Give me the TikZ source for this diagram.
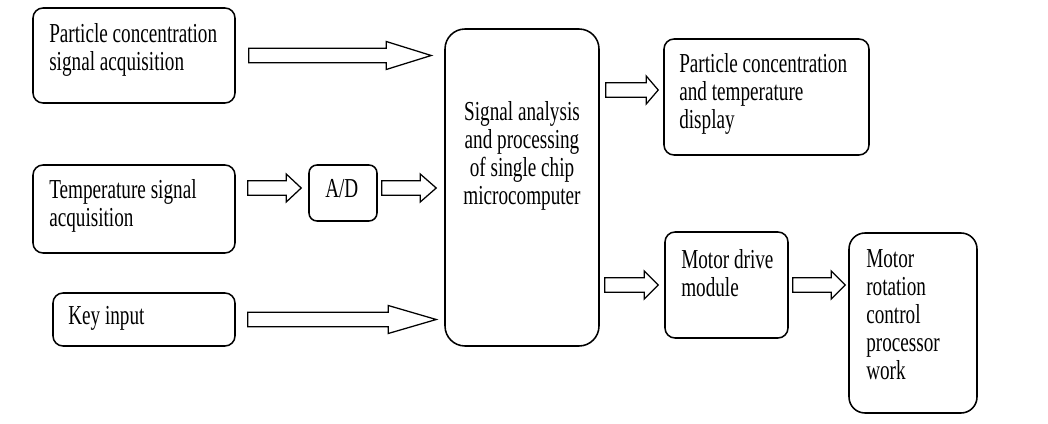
\documentclass[tikz,border=0pt]{standalone}
\usepackage{fontspec}
\setmainfont{Liberation Serif}[FakeStretch=0.7]
\usepackage{tikz}
\usetikzlibrary{positioning, calc}
\tikzset{head len/.store in=\headlen, head len=0.35cm}
\tikzstyle{blockarrow} = [draw=black, line width=0.9pt, line join=miter, fill=white,
                          to path={let \p1=(\tikztostart), \p2=(\tikztotarget) in
                            (\x1,\y1+0.18cm) -- (\x2-\headlen,\y1+0.18cm) -- (\x2-\headlen,\y1+0.35cm)
                            -- (\x2,\y1) -- (\x2-\headlen,\y1-0.35cm) -- (\x2-\headlen,\y1-0.18cm)
                            -- (\x1,\y1-0.18cm) -- cycle}]
\begin{document}
\begin{tikzpicture}[
    blk/.style={rectangle, rounded corners=0.25cm, draw=black, line width=1.1pt, fill=white},
    txt/.style={anchor=north west, inner sep=0pt, align=left, font=\fontsize{19.5}{20}\selectfont},
]
\useasboundingbox (0,0) rectangle (26.2,-10.6);

% Signal sources
\node[blk, minimum width=5.05cm, minimum height=2.375cm] (pca) at (3.35,-1.3875) {};
\node[txt] at (1.225,-0.57) {Particle concentration\\signal acquisition};
\node[blk, minimum width=5.05cm, minimum height=2.2cm] (tsa) at (3.35,-5.225) {};
\node[txt] at (1.225,-4.47) {Temperature signal\\acquisition};
\node[blk, minimum width=4.55cm, minimum height=1.325cm] (key) at (3.6,-7.9875) {};
\node[txt] at (1.7,-7.65) {Key input};

% Converter
\node[blk, rounded corners=0.2cm, minimum width=1.7cm, minimum height=1.4cm] (ad) at (8.575,-4.825) {};
\node[txt] at (8.125,-4.47) {A/D};

% Single chip microcomputer
\node[blk, rounded corners=0.5cm, minimum width=3.85cm, minimum height=7.925cm] (mcu) at (13.05,-4.6875) {};
\node[txt, anchor=north, align=center] at (13.05,-2.52) {Signal analysis\\and processing\\of single chip\\microcomputer};

% Outputs
\node[blk, minimum width=5.125cm, minimum height=2.9cm] (disp) at (19.1625,-2.425) {};
\node[txt] at (16.975,-1.32) {Particle concentration\\and temperature\\display};
\node[blk, minimum width=3.075cm, minimum height=2.65cm] (drv) at (18.1625,-7.125) {};
\node[txt] at (17.025,-6.22) {Motor drive\\module};
\node[blk, rounded corners=0.4cm, minimum width=3.2cm, minimum height=4.5cm] (rot) at (22.825,-8.075) {};
\node[txt] at (21.65,-6.22) {Motor\\rotation\\control\\processor\\work};

% Arrows into the microcomputer
\draw[blockarrow, head len=1.125cm] ($(pca.east)+(0.325,0)$) to ($(mcu.west)+(-0.325,0)$);
\draw[blockarrow, head len=0.375cm] ($(tsa.east |- ad.west)+(0.3,0.125)$) to ($(ad.west)+(-0.175,0)$);
\draw[blockarrow, head len=0.4cm] ($(ad.east)+(0.1,0.125)$) to ($(mcu.west)+(-0.2,0)$);
\draw[blockarrow, head len=1.2cm] ($(key.east)+(0.3,0)$) to ($(mcu.west)+(-0.2,0)$);

% Arrows out of the microcomputer
\draw[blockarrow, head len=0.3cm] ($(mcu.east |- disp.west)+(0.15,0.175)$) to ($(disp.west)+(-0.125,0)$);
\draw[blockarrow] ($(mcu.east |- drv.west)+(0.125,0)$) to ($(drv.west)+(-0.15,0)$);
\draw[blockarrow] ($(drv.east)+(0.1,0)$) to ($(rot.west)+(-0.075,0)$);

\end{tikzpicture}
\end{document}
